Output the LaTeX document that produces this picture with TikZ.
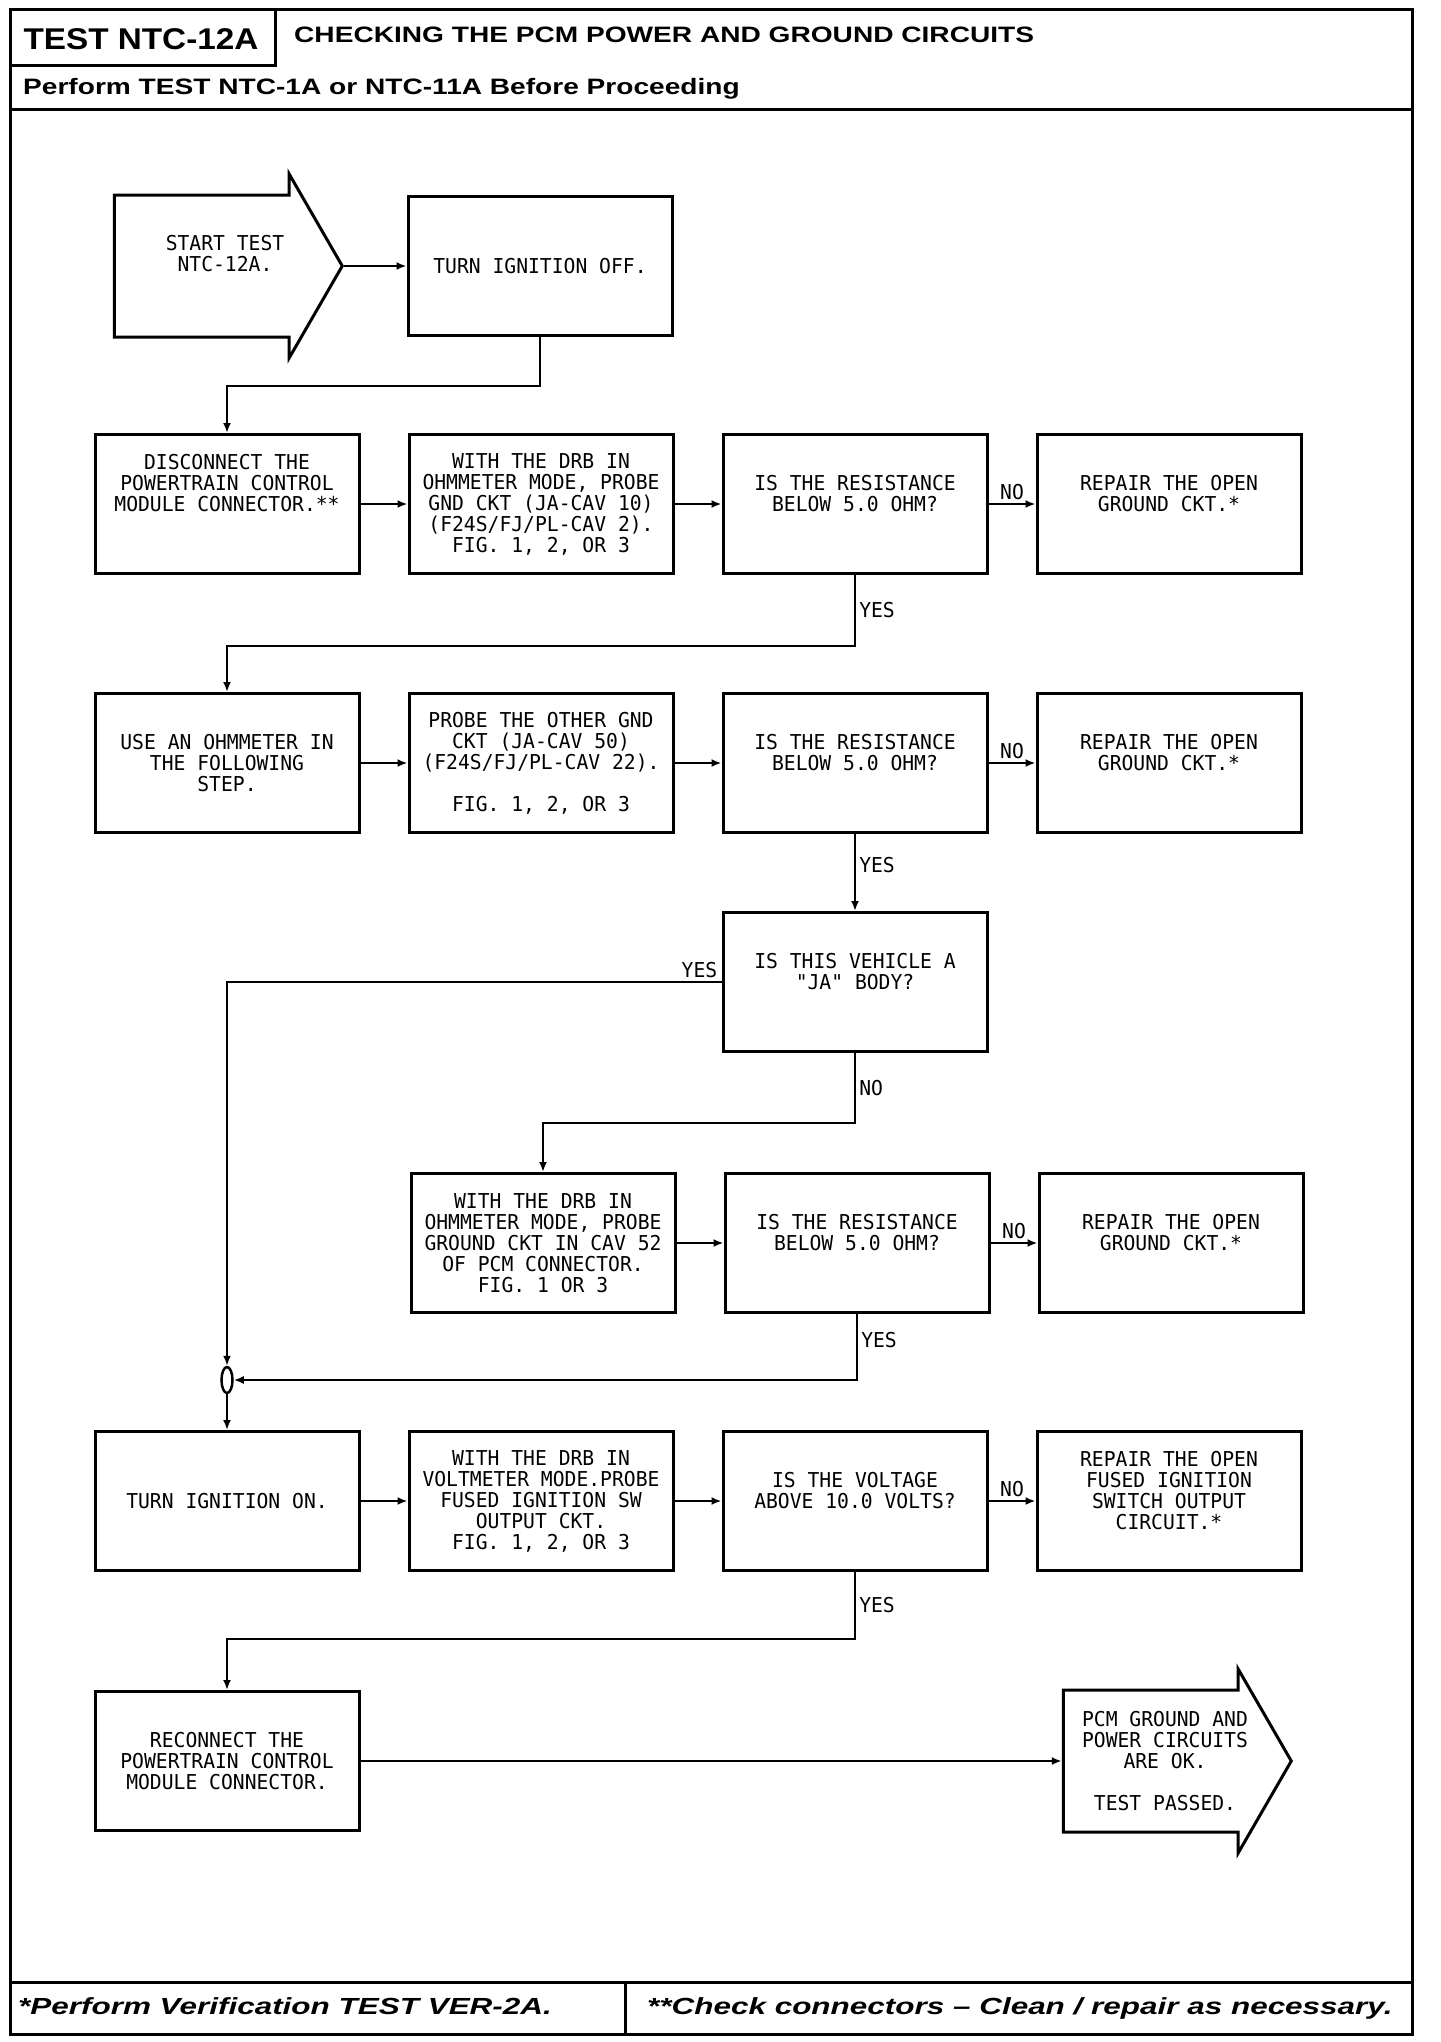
\documentclass[tikz,border=0pt]{standalone}
\usepackage{fontspec}
\usepackage{tikz}
\usetikzlibrary{arrows.meta, positioning, shapes.geometric, shapes.arrows}

\newfontfamily\plotfam{DejaVu Sans Mono}[FakeStretch=0.96]
\newfontfamily\hdrfam{Liberation Sans}[FakeStretch=1.26]
\newfontfamily\idfam{Liberation Sans}[FakeStretch=1.11]
\newfontfamily\notefam{Liberation Sans}[FakeStretch=1.35]
\newcommand{\plottext}{\plotfam\fontsize{20.5}{21}\selectfont}

\begin{document}
\begin{tikzpicture}[
    x=1pt, y=-1pt,
    every node/.style={color=black},
    box/.style={draw, rectangle, line width=3pt, minimum width=264pt, minimum height=139pt,
                align=center, inner sep=2pt, font=\plottext},
    flow/.style={draw, single arrow, line width=3pt, minimum height=228pt, minimum width=181pt,
                 single arrow head extend=21pt, single arrow tip angle=120,
                 inner xsep=0pt, inner ysep=69.5pt},
    junc/.style={draw, ellipse, line width=2.5pt, minimum width=11pt, minimum height=26pt,
                 inner sep=0pt},
    lbl/.style={font=\plottext, inner sep=3pt},
    idtxt/.style={inner sep=0pt, font=\idfam\bfseries\fontsize{30}{30}\selectfont},
    hdr/.style={inner sep=0pt, font=\hdrfam\bfseries\fontsize{22.3}{24}\selectfont},
    note/.style={inner sep=0pt, font=\notefam\bfseries\itshape\fontsize{23.3}{24}\selectfont},
    frame/.style={line width=3pt},
    arrow/.style={-{Latex[length=10pt,width=8pt]}, line width=2.5pt}
]
\useasboundingbox (0,0) rectangle (1440,2042);

% =========================================================
% FRAME, HEADER AND FOOTER
% =========================================================
\draw[frame] (10,10) rectangle (1412,2034);
\draw[frame] (10,109) -- (1412,109);
\draw[frame] (10,66) -- (275,66) -- (275,10);
\draw[frame] (10,1982) -- (1412,1982);
\draw[frame] (625,1982) -- (625,2034);

\node[idtxt] (testid) at (141,39) {TEST NTC-12A};
\node[hdr, anchor=west] (title) at (294,35) {CHECKING THE PCM POWER AND GROUND CIRCUITS};
\node[hdr, anchor=base west] (prereq) at (23,94) {Perform TEST NTC-1A or NTC-11A Before Proceeding};

\node[note, anchor=base west] (note1) at (18,2014) {*Perform Verification TEST VER-2A.};
\node[note, anchor=base west] (note2) at (647,2014) {**Check connectors – Clean / repair as necessary.};

% =========================================================
% START
% =========================================================
\node[flow, anchor=tip] (start) at (344,266) {};
\node[font=\plottext, align=center] (starttxt) at (225,254) {START TEST\\NTC-12A.};
\node[box] (off) at (540,266) {TURN IGNITION OFF.};

% =========================================================
% FIRST GROUND CIRCUIT
% =========================================================
\node[box] (a1) at (227,504) {DISCONNECT THE\\POWERTRAIN CONTROL\\MODULE CONNECTOR.**\\~\\~};
\node[box, right=47pt of a1] (a2)
    {WITH THE DRB IN\\OHMMETER MODE, PROBE\\GND CKT (JA-CAV 10)\\(F24S/FJ/PL-CAV 2).\\FIG. 1, 2, OR 3};
\node[box, right=47pt of a2] (a3) {IS THE RESISTANCE\\BELOW 5.0 OHM?\\~};
\node[box, right=47pt of a3] (a4) {REPAIR THE OPEN\\GROUND CKT.*\\~};

% =========================================================
% SECOND GROUND CIRCUIT
% =========================================================
\node[box] (b1) at (227,763) {USE AN OHMMETER IN\\THE FOLLOWING\\STEP.};
\node[box, right=47pt of b1] (b2)
    {PROBE THE OTHER GND\\CKT (JA-CAV 50)\\(F24S/FJ/PL-CAV 22).\\~\\FIG. 1, 2, OR 3};
\node[box, right=47pt of b2] (b3) {IS THE RESISTANCE\\BELOW 5.0 OHM?\\~};
\node[box, right=47pt of b3] (b4) {REPAIR THE OPEN\\GROUND CKT.*\\~};

% body check
\node[box] (ja) at (855,982) {IS THIS VEHICLE A\\"JA" BODY?\\~};

% =========================================================
% CAV 52 GROUND (NOT JA)
% =========================================================
\node[box] (c2) at (543,1243)
    {WITH THE DRB IN\\OHMMETER MODE, PROBE\\GROUND CKT IN CAV 52\\OF PCM CONNECTOR.\\FIG. 1 OR 3};
\node[box, right=47pt of c2] (c3) {IS THE RESISTANCE\\BELOW 5.0 OHM?\\~};
\node[box, right=47pt of c3] (c4) {REPAIR THE OPEN\\GROUND CKT.*\\~};

\node[junc] (jn) at (227,1380) {};

% =========================================================
% IGNITION FEED
% =========================================================
\node[box] (d1) at (227,1501) {TURN IGNITION ON.};
\node[box, right=47pt of d1] (d2)
    {WITH THE DRB IN\\VOLTMETER MODE.PROBE\\FUSED IGNITION SW\\OUTPUT CKT.\\FIG. 1, 2, OR 3};
\node[box, right=47pt of d2] (d3) {IS THE VOLTAGE\\ABOVE 10.0 VOLTS?\\~};
\node[box, right=47pt of d3] (d4) {REPAIR THE OPEN\\FUSED IGNITION\\SWITCH OUTPUT\\CIRCUIT.*\\~};

\node[box] (e1) at (227,1761) {RECONNECT THE\\POWERTRAIN CONTROL\\MODULE CONNECTOR.};
\node[flow, anchor=tip] (fin) at (1293,1761) {};
\node[font=\plottext, align=center] (fintxt) at (1165,1761)
    {PCM GROUND AND\\POWER CIRCUITS\\ARE OK.\\~\\TEST PASSED.};

% =========================================================
% ARROWS
% =========================================================
\draw[arrow] (start.tip) -- (off.west);
\draw[arrow] (off.south) -- ++(0,49) -| (a1.north);

\draw[arrow] (a1.east) -- (a2.west);
\draw[arrow] (a2.east) -- (a3.west);
\draw[arrow] (a3.east) -- node[lbl, above] {NO} (a4.west);
\draw[arrow] (a3.south) -- node[lbl, right] {YES} ++(0,71) -| (b1.north);

\draw[arrow] (b1.east) -- (b2.west);
\draw[arrow] (b2.east) -- (b3.west);
\draw[arrow] (b3.east) -- node[lbl, above] {NO} (b4.west);
\draw[arrow] (b3.south) -- node[lbl, right, pos=0.4] {YES} (ja.north);

\draw[arrow] (ja.west) node[lbl, above left] {YES} -| (jn.north);
\draw[arrow] (ja.south) -- node[lbl, right] {NO} ++(0,70) -| (c2.north);

\draw[arrow] (c2.east) -- (c3.west);
\draw[arrow] (c3.east) -- node[lbl, above] {NO} (c4.west);
\draw[arrow] (c3.south) |- node[lbl, right, pos=0.2] {YES} (jn.east);

\draw[arrow] (jn.south) -- (d1.north);
\draw[arrow] (d1.east) -- (d2.west);
\draw[arrow] (d2.east) -- (d3.west);
\draw[arrow] (d3.east) -- node[lbl, above] {NO} (d4.west);
\draw[arrow] (d3.south) -- node[lbl, right] {YES} ++(0,67) -| (e1.north);

\draw[arrow] (e1.east) -- (fin.tail);

\end{tikzpicture}
\end{document}
